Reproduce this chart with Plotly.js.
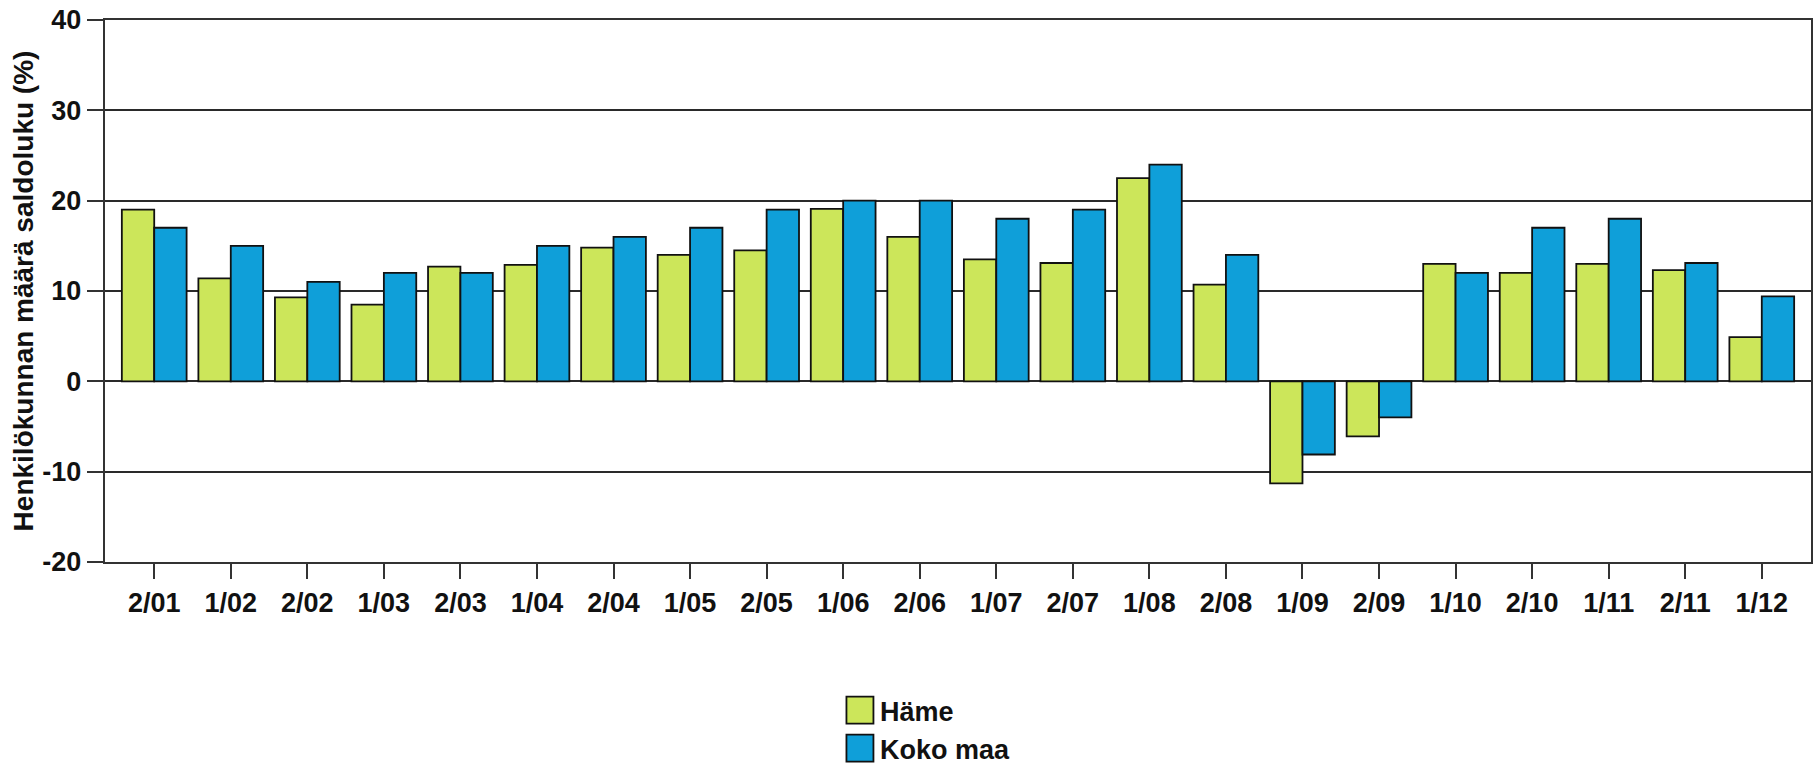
<!DOCTYPE html>
<html>
<head>
<meta charset="utf-8">
<script src="https://cdn.plot.ly/plotly-3.0.1.min.js"></script>
<style>
  html, body { margin: 0; padding: 0; background: #ffffff; }
  #chart { width: 1817px; height: 764px; }
</style>
</head>
<body>
<div id="chart"></div>
<script>
// Categories (half-year / year)
const categories = ["2/01","1/02","2/02","1/03","2/03","1/04","2/04","1/05","2/05","1/06","2/06",
                    "1/07","2/07","1/08","2/08","1/09","2/09","1/10","2/10","1/11","2/11","1/12"];

// Series values (saldoluku, %)
const hame    = [19.0, 11.4, 9.3, 8.5, 12.7, 12.9, 14.8, 14.0, 14.5, 19.1, 16.0,
                 13.5, 13.1, 22.5, 10.7, -11.3, -6.1, 13.0, 12.0, 13.0, 12.3, 4.9];
const kokoMaa = [17.0, 15.0, 11.0, 12.0, 12.0, 15.0, 16.0, 17.0, 19.0, 20.0, 20.0,
                 18.0, 19.0, 24.0, 14.0, -8.1, -4.0, 12.0, 17.0, 18.0, 13.1, 9.4];

const seriesNames = ["Häme", "Koko maa"];
const yTickValues = [-20, -10, 0, 10, 20, 30, 40];
const yTitle = "Henkilökunnan määrä saldoluku (%)";

const FONT = "Liberation Sans, Arial, Helvetica, sans-serif";
const GREEN = "#cce65a";
const BLUE = "#0f9fd9";

const traces = [
  {
    type: "bar", name: seriesNames[0], x: categories, y: hame,
    marker: { color: GREEN, line: { color: "#111111", width: 1.8 } },
    hoverinfo: "x+y+name"
  },
  {
    type: "bar", name: seriesNames[1], x: categories, y: kokoMaa,
    marker: { color: BLUE, line: { color: "#111111", width: 1.8 } },
    hoverinfo: "x+y+name"
  }
];

const layout = {
  width: 1817, height: 764,
  margin: { l: 105, r: 6, t: 20, b: 202, pad: 0, autoexpand: false },
  paper_bgcolor: "#ffffff", plot_bgcolor: "#ffffff",
  barmode: "group", bargap: 0.154, bargroupgap: 0,
  font: { family: FONT, color: "#111111", size: 27, weight: "bold" },
  xaxis: {
    type: "category",
    range: [-0.643, 21.643],
    showgrid: false, zeroline: false,
    showline: true, linecolor: "#333333", linewidth: 2.2, mirror: true,
    ticks: "outside", ticklen: 15, tickwidth: 2, tickcolor: "#333333",
    tickangle: 0,
    tickfont: { family: FONT, size: 27, color: "#111111", weight: "bold" },
    automargin: false
  },
  yaxis: {
    range: [-20, 40],
    tickvals: yTickValues,
    ticktext: yTickValues.map(String),
    showgrid: true, gridcolor: "#2a2a2a", gridwidth: 2,
    zeroline: true, zerolinecolor: "#2a2a2a", zerolinewidth: 2,
    showline: true, linecolor: "#333333", linewidth: 2.2, mirror: true,
    ticks: "outside", ticklen: 16, tickwidth: 2, tickcolor: "#333333",
    tickfont: { family: FONT, size: 27, color: "#111111", weight: "bold" },
    title: { text: yTitle, font: { family: FONT, size: 28, color: "#111111", weight: "bold" }, standoff: 1 },
    automargin: false
  },
  showlegend: true,
  legend: {
    orientation: "v",
    x: 0.4308, xanchor: "left",
    y: -0.2288, yanchor: "top",
    font: { family: FONT, size: 27, color: "#111111", weight: "bold" },
    bgcolor: "rgba(0,0,0,0)", borderwidth: 0,
    tracegroupgap: 0
  }
};

Plotly.newPlot("chart", traces, layout, { staticPlot: true, displayModeBar: false }).then(function (gd) {
  // enlarge legend swatches to match the reference's big square keys
  gd.querySelectorAll(".legend .legendpoints path").forEach(function (p) {
    p.setAttribute("d", "M13.5,13.5H-13.5V-13.5H13.5Z");
  });
});
</script>
</body>
</html>
